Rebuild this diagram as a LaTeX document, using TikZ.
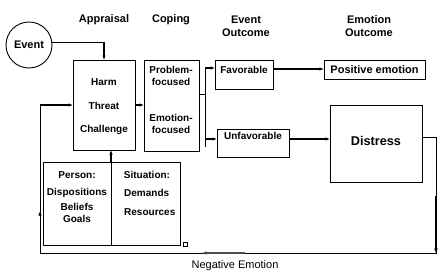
\documentclass[tikz,border=0pt]{standalone}
\usepackage{fontspec}
\setmainfont{Liberation Sans}
\usetikzlibrary{arrows.meta,calc}
\begin{document}
\begin{tikzpicture}[x=1pt,y=-1pt,
 box/.style={draw,line width=0.9pt,inner sep=0pt,outer sep=0pt},
 txt/.style={font=\bfseries\fontsize{10}{12}\selectfont,inner sep=0pt,align=center},
 hdr/.style={font=\bfseries\fontsize{11}{13}\selectfont,inner sep=0pt,align=center},
 arr/.style={line width=1.2pt,-{Latex[length=4.5pt,width=3.5pt]}},
 ln/.style={line width=0.9pt}]
\useasboundingbox (0,0) rectangle (448,276);
% headers
\node[hdr] (hApp) at (104,20) {Appraisal};
\node[hdr] (hCop) at (171,20) {Coping};
\node[hdr] (hEvo) at (246,26.5) {Event\\Outcome};
\node[hdr] (hEmo) at (369,26.5) {Emotion\\Outcome};
% shapes
\node[box,circle,minimum size=46pt,font=\bfseries\fontsize{11}{13}\selectfont] (ev) at (29,45) {Event};
\node[box,minimum width=62pt,minimum height=90pt] (app) at (104,105) {};
\node[box,minimum width=55pt,minimum height=91pt] (cop) at (171.5,105.5) {};
\node[box,minimum width=58pt,minimum height=29pt] (fav) at (244,74.5) {};
\node[box,minimum width=72pt,minimum height=28pt] (unf) at (253,143) {};
\node[box,minimum width=101pt,minimum height=19pt] (pos) at (374.5,69.5) {};
\node[box,minimum width=92pt,minimum height=77pt] (dis) at (376,143.5) {};
\node[box,minimum width=68pt,minimum height=83pt] (per) at (77,203.5) {};
\node[box,minimum width=69pt,minimum height=83pt] (sit) at (145.5,203.5) {};
\node[box,line width=0.6pt,minimum size=4pt] (sq) at (185,244) {};
% texts
\node[txt] (tHarm) at (104,82) {Harm};
\node[txt] (tThr) at (104,106) {Threat};
\node[txt] (tCha) at (104,130) {Challenge};
\node[txt] (tPf) at (171,76) {Problem-\\focused};
\node[txt] (tEf) at (171,124) {Emotion-\\focused};
\node[txt] (tFav) at (244,70) {Favorable};
\node[txt] (tUnf) at (253,136) {Unfavorable};
\node[txt,font=\bfseries\fontsize{11}{13}\selectfont] (tPos) at (374.5,70) {Positive emotion};
\node[txt,font=\bfseries\fontsize{12.7}{15}\selectfont] (tDis) at (376,141) {Distress};
\node[txt] (tPer) at (77,175) {Person:};
\node[txt] (tDsp) at (77,193) {Dispositions};
\node[txt] (tBel) at (77,206.5) {Beliefs};
\node[txt] (tGoa) at (77,219) {Goals};
\node[txt] (tSit) at (147,175) {Situation:};
\node[txt,anchor=west] (tDem) at (124,193) {Demands};
\node[txt,anchor=west] (tRes) at (124,212) {Resources};
\node[font=\fontsize{11}{13}\selectfont,inner sep=0pt] (tNeg) at (235,266) {Negative Emotion};
% coordinates
\coordinate (split) at (205,94);
\coordinate (cR) at (436,253);
\coordinate (cL) at (40,253);
\coordinate (cT) at (436,137);
% connectors
\draw[arr] (ev.7.5) -| (app.north);
\draw[arr] (app.east) -- (cop.west |- app.east);
\draw[ln] (cop.east |- split) -- (split);
\draw[ln] ([yshift=6.5pt]fav.west -| split) -- ([yshift=-4pt]unf.west -| split);
\draw[arr] ([yshift=6.5pt]fav.west -| split) -- ([yshift=6.5pt]fav.west);
\draw[arr] ([yshift=4pt]unf.west -| split) -- ([yshift=4pt]unf.west);
\draw[arr] ([yshift=5.5pt]fav.east) -- ([yshift=5.5pt]fav.east -| pos.west);
\draw[arr] ([yshift=4pt]unf.east) -- ([yshift=4pt]unf.east -| dis.west);
\draw[arr] (per.north east) -- (per.north east |- app.south);
% feedback loop
\draw[ln] (dis.east |- cT) -- (cT) -- (cR) -- (cL) -- (cL |- app.west);
\draw[arr] (cL |- app.west) -- (app.west);
\draw[line width=2pt,-{Latex[length=4.5pt,width=4pt]}] (436,196) -- (cR);
\draw[line width=1.5pt,gray!60!black,-{Latex[length=4.5pt,width=3.5pt]}] (245,253) -- (202,253);
\draw[line width=0.9pt,-{Latex[length=4.5pt,width=3.5pt]}] (40,225) -- (40,211);
\end{tikzpicture}
\end{document}
